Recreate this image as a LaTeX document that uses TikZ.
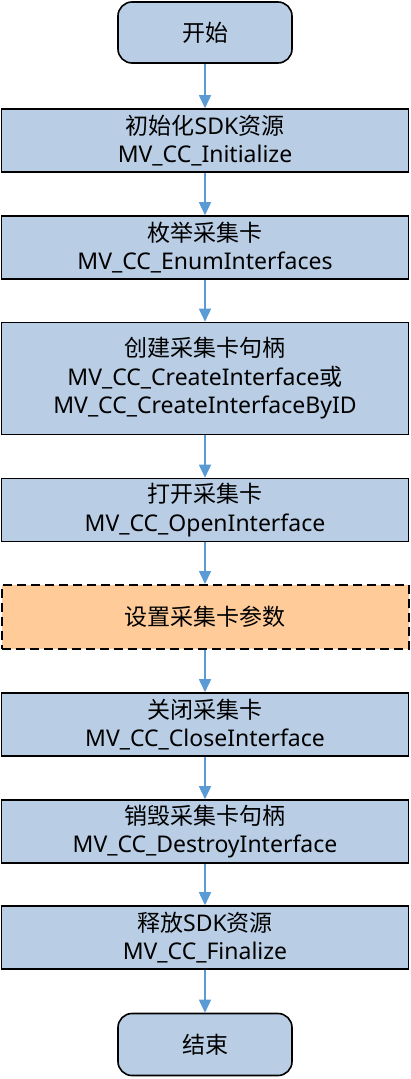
\documentclass[tikz,border=0pt]{standalone}
\usepackage{fontspec}
\setmainfont{Noto Sans}
\newfontfamily\cjk{Noto Sans CJK SC}
\usetikzlibrary{arrows.meta}
\definecolor{boxblue}{HTML}{B9CDE5}
\definecolor{boxorange}{HTML}{FFCC99}
\definecolor{linkblue}{HTML}{5B9BD5}

\begin{document}
\begin{tikzpicture}[
        x=1pt, y=-1pt,
        every node/.style={font=\fontsize{23}{28.5}\selectfont, align=center, inner sep=0pt},
        terminal/.style={draw, line width=1.6pt, fill=boxblue, rounded corners=14pt,
                minimum width=174pt, minimum height=61pt},
        process/.style={draw, line width=1.6pt, fill=boxblue,
                minimum width=407pt, minimum height=63pt},
        option/.style={process, fill=boxorange, line width=2pt, dash pattern=on 9pt off 5pt},
        link/.style={linkblue, line width=1.6pt, -{Triangle[length=13pt,width=12pt]}},
    ]
    \useasboundingbox (0,0) rectangle (410,1079);

    % Start and initialization
    \node[terminal] (start) at (205,32.5) {\cjk 开始};
    \node[process] (init) at (205,140.5) {{\cjk 初始化}SDK{\cjk 资源} \\ MV\_CC\_Initialize};
    \node[process] (enum) at (205,247.5) {{\cjk 枚举采集卡} \\ MV\_CC\_EnumInterfaces};
    \node[process, minimum height=112pt] (create) at (205,378.5)
        {{\cjk 创建采集卡句柄} \\ MV\_CC\_CreateInterface{\cjk 或} \\ MV\_CC\_CreateInterfaceByID};
    \node[process] (open) at (205,510) {{\cjk 打开采集卡} \\ MV\_CC\_OpenInterface};

    % Optional step
    \node[option, minimum height=64pt] (param) at (205,617) {\cjk 设置采集卡参数};

    % Shutdown
    \node[process] (close) at (205,724.5) {{\cjk 关闭采集卡} \\ MV\_CC\_CloseInterface};
    \node[process] (destroy) at (205,831.5) {{\cjk 销毁采集卡句柄} \\ MV\_CC\_DestroyInterface};
    \node[process] (final) at (205,937.5) {{\cjk 释放}SDK{\cjk 资源} \\ MV\_CC\_Finalize};
    \node[terminal, minimum height=62pt] (end) at (205,1044.5) {\cjk 结束};

    % Arrows
    \foreach \a/\b in {start/init, init/enum, enum/create, create/open, open/param,
            param/close, close/destroy, destroy/final, final/end}
        \draw[link] (\a) -- (\b);
\end{tikzpicture}
\end{document}
